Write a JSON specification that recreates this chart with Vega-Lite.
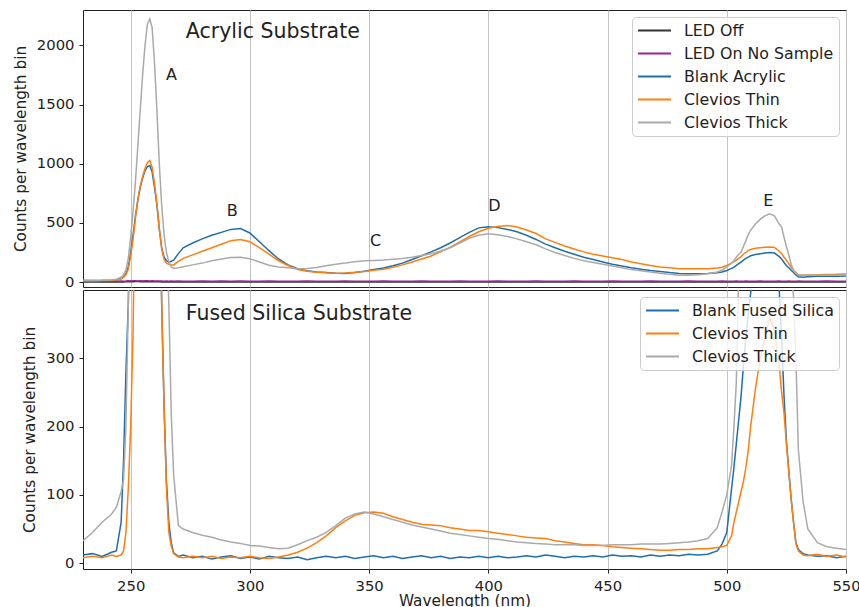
{
"$schema": "https://vega.github.io/schema/vega-lite/v6.json",
"padding": {"left": 12, "top": 9, "right": 1, "bottom": 0},
"background": "white",
"spacing": -3,
"config": {
 "font": "DejaVu Sans",
 "view": {"stroke": "#222222", "strokeWidth": 1},
 "axis": {"labelFont": "DejaVu Sans", "labelFontSize": 14.8, "labelColor": "#222222", "titleFont": "DejaVu Sans", "titleFontSize": 15.3, "titleFontWeight": "normal", "titleColor": "#222222", "tickColor": "#222222", "tickSize": 4, "labelPadding": 5, "domain": false, "grid": false, "gridColor": "#c4c4c4", "gridWidth": 1, "labelFlush": false, "format": "d"},
 "axisY": {"titlePadding": 8},
 "axisX": {"titlePadding": 1},
 "legend": {"orient": "top-right", "offset": 7, "symbolType": "M-1,0H3.4", "symbolStrokeWidth": 2, "symbolSize": 225, "labelFont": "DejaVu Sans", "labelFontSize": 15.8, "labelColor": "#222222", "fillColor": "rgba(255,255,255,0.8)", "strokeColor": "#cccccc", "cornerRadius": 4, "padding": 5, "rowPadding": 6, "labelOffset": 30},
 "text": {"font": "DejaVu Sans", "color": "#222222"}
},
"datasets": {
"acrylic": [
{"wl":230,"LED Off":1,"LED On No Sample":7,"Blank Acrylic":12,"Clevios Thin":12,"Clevios Thick":14},
{"wl":234,"LED Off":0,"LED On No Sample":8,"Blank Acrylic":12,"Clevios Thin":11,"Clevios Thick":14},
{"wl":238,"LED Off":2,"LED On No Sample":6,"Blank Acrylic":13,"Clevios Thin":12,"Clevios Thick":15},
{"wl":242,"LED Off":1,"LED On No Sample":8,"Blank Acrylic":16,"Clevios Thin":15,"Clevios Thick":18},
{"wl":244,"LED Off":0,"LED On No Sample":7,"Blank Acrylic":20,"Clevios Thin":19,"Clevios Thick":24},
{"wl":246,"LED Off":2,"LED On No Sample":9,"Blank Acrylic":30,"Clevios Thin":28,"Clevios Thick":40},
{"wl":247,"LED Off":1,"LED On No Sample":7,"Blank Acrylic":45,"Clevios Thin":40,"Clevios Thick":60},
{"wl":248,"LED Off":3,"LED On No Sample":8,"Blank Acrylic":70,"Clevios Thin":60,"Clevios Thick":100},
{"wl":249,"LED Off":2,"LED On No Sample":10,"Blank Acrylic":130,"Clevios Thin":110,"Clevios Thick":200},
{"wl":250,"LED Off":4,"LED On No Sample":9,"Blank Acrylic":250,"Clevios Thin":220,"Clevios Thick":380},
{"wl":251,"LED Off":3,"LED On No Sample":11,"Blank Acrylic":400,"Clevios Thin":360,"Clevios Thick":600},
{"wl":252,"LED Off":5,"LED On No Sample":10,"Blank Acrylic":560,"Clevios Thin":540,"Clevios Thick":850},
{"wl":253,"LED Off":4,"LED On No Sample":9,"Blank Acrylic":690,"Clevios Thin":700,"Clevios Thick":1150},
{"wl":254,"LED Off":3,"LED On No Sample":10,"Blank Acrylic":800,"Clevios Thin":810,"Clevios Thick":1450},
{"wl":255,"LED Off":4,"LED On No Sample":9,"Blank Acrylic":880,"Clevios Thin":890,"Clevios Thick":1750},
{"wl":256,"LED Off":3,"LED On No Sample":11,"Blank Acrylic":940,"Clevios Thin":960,"Clevios Thick":2000},
{"wl":257,"LED Off":4,"LED On No Sample":10,"Blank Acrylic":975,"Clevios Thin":1010,"Clevios Thick":2180},
{"wl":258,"LED Off":3,"LED On No Sample":9,"Blank Acrylic":985,"Clevios Thin":1028,"Clevios Thick":2224},
{"wl":259,"LED Off":2,"LED On No Sample":10,"Blank Acrylic":930,"Clevios Thin":970,"Clevios Thick":2150},
{"wl":260,"LED Off":3,"LED On No Sample":9,"Blank Acrylic":800,"Clevios Thin":830,"Clevios Thick":1850},
{"wl":261,"LED Off":2,"LED On No Sample":8,"Blank Acrylic":650,"Clevios Thin":660,"Clevios Thick":1450},
{"wl":262,"LED Off":2,"LED On No Sample":9,"Blank Acrylic":450,"Clevios Thin":450,"Clevios Thick":1000},
{"wl":263,"LED Off":1,"LED On No Sample":8,"Blank Acrylic":290,"Clevios Thin":280,"Clevios Thick":650},
{"wl":264,"LED Off":1,"LED On No Sample":7,"Blank Acrylic":210,"Clevios Thin":190,"Clevios Thick":400},
{"wl":265,"LED Off":1,"LED On No Sample":8,"Blank Acrylic":180,"Clevios Thin":160,"Clevios Thick":250},
{"wl":266,"LED Off":0,"LED On No Sample":7,"Blank Acrylic":170,"Clevios Thin":150,"Clevios Thick":170},
{"wl":267,"LED Off":1,"LED On No Sample":8,"Blank Acrylic":175,"Clevios Thin":145,"Clevios Thick":130},
{"wl":268,"LED Off":0,"LED On No Sample":7,"Blank Acrylic":185,"Clevios Thin":145,"Clevios Thick":115},
{"wl":270,"LED Off":1,"LED On No Sample":8,"Blank Acrylic":240,"Clevios Thin":175,"Clevios Thick":120},
{"wl":272,"LED Off":0,"LED On No Sample":7,"Blank Acrylic":290,"Clevios Thin":200,"Clevios Thick":130},
{"wl":276,"LED Off":1,"LED On No Sample":6,"Blank Acrylic":330,"Clevios Thin":230,"Clevios Thick":145},
{"wl":280,"LED Off":0,"LED On No Sample":8,"Blank Acrylic":365,"Clevios Thin":260,"Clevios Thick":160},
{"wl":284,"LED Off":1,"LED On No Sample":7,"Blank Acrylic":395,"Clevios Thin":290,"Clevios Thick":180},
{"wl":288,"LED Off":2,"LED On No Sample":8,"Blank Acrylic":420,"Clevios Thin":320,"Clevios Thick":195},
{"wl":292,"LED Off":0,"LED On No Sample":7,"Blank Acrylic":445,"Clevios Thin":350,"Clevios Thick":208},
{"wl":296,"LED Off":1,"LED On No Sample":8,"Blank Acrylic":452,"Clevios Thin":360,"Clevios Thick":210},
{"wl":300,"LED Off":0,"LED On No Sample":7,"Blank Acrylic":415,"Clevios Thin":340,"Clevios Thick":197},
{"wl":304,"LED Off":1,"LED On No Sample":6,"Blank Acrylic":340,"Clevios Thin":290,"Clevios Thick":170},
{"wl":308,"LED Off":0,"LED On No Sample":8,"Blank Acrylic":265,"Clevios Thin":235,"Clevios Thick":142},
{"wl":312,"LED Off":1,"LED On No Sample":7,"Blank Acrylic":195,"Clevios Thin":180,"Clevios Thick":128},
{"wl":316,"LED Off":0,"LED On No Sample":6,"Blank Acrylic":145,"Clevios Thin":140,"Clevios Thick":120},
{"wl":320,"LED Off":1,"LED On No Sample":7,"Blank Acrylic":112,"Clevios Thin":105,"Clevios Thick":113},
{"wl":324,"LED Off":0,"LED On No Sample":8,"Blank Acrylic":95,"Clevios Thin":92,"Clevios Thick":115},
{"wl":328,"LED Off":1,"LED On No Sample":7,"Blank Acrylic":85,"Clevios Thin":83,"Clevios Thick":122},
{"wl":332,"LED Off":0,"LED On No Sample":6,"Blank Acrylic":80,"Clevios Thin":78,"Clevios Thick":138},
{"wl":336,"LED Off":1,"LED On No Sample":7,"Blank Acrylic":74,"Clevios Thin":75,"Clevios Thick":150},
{"wl":340,"LED Off":0,"LED On No Sample":8,"Blank Acrylic":72,"Clevios Thin":76,"Clevios Thick":160},
{"wl":344,"LED Off":1,"LED On No Sample":7,"Blank Acrylic":80,"Clevios Thin":82,"Clevios Thick":172},
{"wl":348,"LED Off":0,"LED On No Sample":6,"Blank Acrylic":92,"Clevios Thin":90,"Clevios Thick":180},
{"wl":352,"LED Off":1,"LED On No Sample":7,"Blank Acrylic":105,"Clevios Thin":100,"Clevios Thick":183},
{"wl":356,"LED Off":0,"LED On No Sample":8,"Blank Acrylic":118,"Clevios Thin":108,"Clevios Thick":186},
{"wl":360,"LED Off":1,"LED On No Sample":7,"Blank Acrylic":138,"Clevios Thin":125,"Clevios Thick":192},
{"wl":364,"LED Off":0,"LED On No Sample":6,"Blank Acrylic":160,"Clevios Thin":145,"Clevios Thick":198},
{"wl":368,"LED Off":1,"LED On No Sample":7,"Blank Acrylic":190,"Clevios Thin":170,"Clevios Thick":210},
{"wl":372,"LED Off":0,"LED On No Sample":8,"Blank Acrylic":222,"Clevios Thin":195,"Clevios Thick":225},
{"wl":376,"LED Off":1,"LED On No Sample":7,"Blank Acrylic":255,"Clevios Thin":220,"Clevios Thick":240},
{"wl":380,"LED Off":0,"LED On No Sample":6,"Blank Acrylic":290,"Clevios Thin":255,"Clevios Thick":262},
{"wl":384,"LED Off":1,"LED On No Sample":7,"Blank Acrylic":330,"Clevios Thin":295,"Clevios Thick":290},
{"wl":388,"LED Off":0,"LED On No Sample":8,"Blank Acrylic":375,"Clevios Thin":340,"Clevios Thick":330},
{"wl":392,"LED Off":1,"LED On No Sample":7,"Blank Acrylic":420,"Clevios Thin":385,"Clevios Thick":370},
{"wl":396,"LED Off":0,"LED On No Sample":6,"Blank Acrylic":458,"Clevios Thin":425,"Clevios Thick":395},
{"wl":400,"LED Off":1,"LED On No Sample":7,"Blank Acrylic":468,"Clevios Thin":455,"Clevios Thick":409},
{"wl":404,"LED Off":0,"LED On No Sample":8,"Blank Acrylic":460,"Clevios Thin":470,"Clevios Thick":400},
{"wl":408,"LED Off":1,"LED On No Sample":7,"Blank Acrylic":445,"Clevios Thin":478,"Clevios Thick":385},
{"wl":412,"LED Off":0,"LED On No Sample":6,"Blank Acrylic":425,"Clevios Thin":465,"Clevios Thick":365},
{"wl":416,"LED Off":1,"LED On No Sample":7,"Blank Acrylic":395,"Clevios Thin":440,"Clevios Thick":340},
{"wl":420,"LED Off":0,"LED On No Sample":8,"Blank Acrylic":360,"Clevios Thin":410,"Clevios Thick":315},
{"wl":424,"LED Off":1,"LED On No Sample":7,"Blank Acrylic":320,"Clevios Thin":365,"Clevios Thick":280},
{"wl":428,"LED Off":0,"LED On No Sample":6,"Blank Acrylic":290,"Clevios Thin":335,"Clevios Thick":250},
{"wl":432,"LED Off":1,"LED On No Sample":7,"Blank Acrylic":260,"Clevios Thin":305,"Clevios Thick":225},
{"wl":436,"LED Off":0,"LED On No Sample":8,"Blank Acrylic":235,"Clevios Thin":280,"Clevios Thick":200},
{"wl":440,"LED Off":1,"LED On No Sample":7,"Blank Acrylic":210,"Clevios Thin":255,"Clevios Thick":180},
{"wl":444,"LED Off":0,"LED On No Sample":6,"Blank Acrylic":190,"Clevios Thin":235,"Clevios Thick":165},
{"wl":448,"LED Off":1,"LED On No Sample":7,"Blank Acrylic":170,"Clevios Thin":220,"Clevios Thick":150},
{"wl":452,"LED Off":0,"LED On No Sample":8,"Blank Acrylic":150,"Clevios Thin":205,"Clevios Thick":135},
{"wl":456,"LED Off":1,"LED On No Sample":7,"Blank Acrylic":135,"Clevios Thin":190,"Clevios Thick":120},
{"wl":460,"LED Off":0,"LED On No Sample":6,"Blank Acrylic":120,"Clevios Thin":170,"Clevios Thick":105},
{"wl":464,"LED Off":1,"LED On No Sample":7,"Blank Acrylic":108,"Clevios Thin":155,"Clevios Thick":95},
{"wl":468,"LED Off":0,"LED On No Sample":8,"Blank Acrylic":98,"Clevios Thin":140,"Clevios Thick":85},
{"wl":472,"LED Off":1,"LED On No Sample":7,"Blank Acrylic":90,"Clevios Thin":128,"Clevios Thick":75},
{"wl":476,"LED Off":0,"LED On No Sample":6,"Blank Acrylic":80,"Clevios Thin":120,"Clevios Thick":65},
{"wl":480,"LED Off":1,"LED On No Sample":7,"Blank Acrylic":72,"Clevios Thin":113,"Clevios Thick":58},
{"wl":484,"LED Off":0,"LED On No Sample":8,"Blank Acrylic":70,"Clevios Thin":112,"Clevios Thick":58},
{"wl":488,"LED Off":1,"LED On No Sample":7,"Blank Acrylic":70,"Clevios Thin":112,"Clevios Thick":62},
{"wl":492,"LED Off":0,"LED On No Sample":6,"Blank Acrylic":72,"Clevios Thin":113,"Clevios Thick":70},
{"wl":496,"LED Off":1,"LED On No Sample":7,"Blank Acrylic":78,"Clevios Thin":118,"Clevios Thick":85},
{"wl":498,"LED Off":0,"LED On No Sample":8,"Blank Acrylic":85,"Clevios Thin":125,"Clevios Thick":100},
{"wl":500,"LED Off":1,"LED On No Sample":7,"Blank Acrylic":98,"Clevios Thin":140,"Clevios Thick":127},
{"wl":502,"LED Off":0,"LED On No Sample":6,"Blank Acrylic":115,"Clevios Thin":160,"Clevios Thick":160},
{"wl":503,"LED Off":1,"LED On No Sample":7,"Blank Acrylic":125,"Clevios Thin":172,"Clevios Thick":183},
{"wl":504,"LED Off":0,"LED On No Sample":8,"Blank Acrylic":140,"Clevios Thin":185,"Clevios Thick":210},
{"wl":505,"LED Off":1,"LED On No Sample":7,"Blank Acrylic":155,"Clevios Thin":200,"Clevios Thick":235},
{"wl":506,"LED Off":0,"LED On No Sample":6,"Blank Acrylic":169,"Clevios Thin":215,"Clevios Thick":253},
{"wl":507,"LED Off":1,"LED On No Sample":7,"Blank Acrylic":185,"Clevios Thin":235,"Clevios Thick":300},
{"wl":508,"LED Off":0,"LED On No Sample":8,"Blank Acrylic":200,"Clevios Thin":250,"Clevios Thick":350},
{"wl":509,"LED Off":1,"LED On No Sample":7,"Blank Acrylic":211,"Clevios Thin":268,"Clevios Thick":400},
{"wl":510,"LED Off":0,"LED On No Sample":6,"Blank Acrylic":222,"Clevios Thin":275,"Clevios Thick":437},
{"wl":512,"LED Off":1,"LED On No Sample":7,"Blank Acrylic":232,"Clevios Thin":285,"Clevios Thick":490},
{"wl":514,"LED Off":0,"LED On No Sample":8,"Blank Acrylic":240,"Clevios Thin":290,"Clevios Thick":530},
{"wl":516,"LED Off":1,"LED On No Sample":7,"Blank Acrylic":245,"Clevios Thin":295,"Clevios Thick":560},
{"wl":518,"LED Off":0,"LED On No Sample":6,"Blank Acrylic":250,"Clevios Thin":296,"Clevios Thick":577},
{"wl":520,"LED Off":1,"LED On No Sample":7,"Blank Acrylic":245,"Clevios Thin":292,"Clevios Thick":560},
{"wl":522,"LED Off":0,"LED On No Sample":8,"Blank Acrylic":215,"Clevios Thin":260,"Clevios Thick":490},
{"wl":523,"LED Off":1,"LED On No Sample":7,"Blank Acrylic":195,"Clevios Thin":240,"Clevios Thick":465},
{"wl":524,"LED Off":0,"LED On No Sample":6,"Blank Acrylic":165,"Clevios Thin":210,"Clevios Thick":380},
{"wl":525,"LED Off":1,"LED On No Sample":7,"Blank Acrylic":140,"Clevios Thin":185,"Clevios Thick":300},
{"wl":526,"LED Off":0,"LED On No Sample":8,"Blank Acrylic":120,"Clevios Thin":155,"Clevios Thick":230},
{"wl":527,"LED Off":1,"LED On No Sample":7,"Blank Acrylic":99,"Clevios Thin":125,"Clevios Thick":150},
{"wl":528,"LED Off":0,"LED On No Sample":6,"Blank Acrylic":80,"Clevios Thin":100,"Clevios Thick":100},
{"wl":529,"LED Off":1,"LED On No Sample":7,"Blank Acrylic":60,"Clevios Thin":80,"Clevios Thick":75},
{"wl":530,"LED Off":0,"LED On No Sample":8,"Blank Acrylic":45,"Clevios Thin":62,"Clevios Thick":60},
{"wl":532,"LED Off":1,"LED On No Sample":7,"Blank Acrylic":40,"Clevios Thin":58,"Clevios Thick":57},
{"wl":534,"LED Off":0,"LED On No Sample":6,"Blank Acrylic":45,"Clevios Thin":60,"Clevios Thick":57},
{"wl":538,"LED Off":1,"LED On No Sample":7,"Blank Acrylic":48,"Clevios Thin":62,"Clevios Thick":57},
{"wl":542,"LED Off":0,"LED On No Sample":8,"Blank Acrylic":48,"Clevios Thin":64,"Clevios Thick":57},
{"wl":546,"LED Off":1,"LED On No Sample":7,"Blank Acrylic":48,"Clevios Thin":65,"Clevios Thick":57},
{"wl":550,"LED Off":0,"LED On No Sample":6,"Blank Acrylic":50,"Clevios Thin":68,"Clevios Thick":60}
],
"silica": [
{"wl":230,"Blank Fused Silica":12,"Clevios Thin":8,"Clevios Thick":33},
{"wl":234,"Blank Fused Silica":14,"Clevios Thin":10,"Clevios Thick":45},
{"wl":238,"Blank Fused Silica":10,"Clevios Thin":8,"Clevios Thick":60},
{"wl":242,"Blank Fused Silica":16,"Clevios Thin":12,"Clevios Thick":72},
{"wl":244,"Blank Fused Silica":18,"Clevios Thin":10,"Clevios Thick":82},
{"wl":246,"Blank Fused Silica":60,"Clevios Thin":12,"Clevios Thick":105},
{"wl":247,"Blank Fused Silica":150,"Clevios Thin":18,"Clevios Thick":122},
{"wl":248,"Blank Fused Silica":280,"Clevios Thin":45,"Clevios Thick":200},
{"wl":249,"Blank Fused Silica":380,"Clevios Thin":110,"Clevios Thick":380},
{"wl":250,"Blank Fused Silica":520,"Clevios Thin":200,"Clevios Thick":600},
{"wl":251,"Blank Fused Silica":800,"Clevios Thin":340,"Clevios Thick":900},
{"wl":252,"Blank Fused Silica":1100,"Clevios Thin":600,"Clevios Thick":1200},
{"wl":253,"Blank Fused Silica":1300,"Clevios Thin":900,"Clevios Thick":1500},
{"wl":254,"Blank Fused Silica":1400,"Clevios Thin":1200,"Clevios Thick":1800},
{"wl":255,"Blank Fused Silica":1450,"Clevios Thin":1350,"Clevios Thick":2000},
{"wl":256,"Blank Fused Silica":1500,"Clevios Thin":1450,"Clevios Thick":2100},
{"wl":257,"Blank Fused Silica":1500,"Clevios Thin":1500,"Clevios Thick":2200},
{"wl":258,"Blank Fused Silica":1500,"Clevios Thin":1500,"Clevios Thick":2200},
{"wl":259,"Blank Fused Silica":1400,"Clevios Thin":1400,"Clevios Thick":2100},
{"wl":260,"Blank Fused Silica":1200,"Clevios Thin":1200,"Clevios Thick":1900},
{"wl":261,"Blank Fused Silica":900,"Clevios Thin":900,"Clevios Thick":1600},
{"wl":262,"Blank Fused Silica":600,"Clevios Thin":600,"Clevios Thick":1200},
{"wl":263,"Blank Fused Silica":380,"Clevios Thin":380,"Clevios Thick":900},
{"wl":264,"Blank Fused Silica":230,"Clevios Thin":230,"Clevios Thick":650},
{"wl":265,"Blank Fused Silica":120,"Clevios Thin":110,"Clevios Thick":480},
{"wl":266,"Blank Fused Silica":60,"Clevios Thin":45,"Clevios Thick":380},
{"wl":267,"Blank Fused Silica":30,"Clevios Thin":25,"Clevios Thick":220},
{"wl":268,"Blank Fused Silica":15,"Clevios Thin":14,"Clevios Thick":130},
{"wl":270,"Blank Fused Silica":10,"Clevios Thin":9,"Clevios Thick":55},
{"wl":272,"Blank Fused Silica":12,"Clevios Thin":8,"Clevios Thick":50},
{"wl":276,"Blank Fused Silica":8,"Clevios Thin":10,"Clevios Thick":45},
{"wl":280,"Blank Fused Silica":10,"Clevios Thin":8,"Clevios Thick":41},
{"wl":284,"Blank Fused Silica":6,"Clevios Thin":10,"Clevios Thick":38},
{"wl":288,"Blank Fused Silica":9,"Clevios Thin":7,"Clevios Thick":34},
{"wl":292,"Blank Fused Silica":11,"Clevios Thin":9,"Clevios Thick":31},
{"wl":296,"Blank Fused Silica":7,"Clevios Thin":8,"Clevios Thick":29},
{"wl":300,"Blank Fused Silica":9,"Clevios Thin":10,"Clevios Thick":26},
{"wl":304,"Blank Fused Silica":6,"Clevios Thin":8,"Clevios Thick":25},
{"wl":308,"Blank Fused Silica":10,"Clevios Thin":7,"Clevios Thick":23},
{"wl":312,"Blank Fused Silica":8,"Clevios Thin":9,"Clevios Thick":21},
{"wl":316,"Blank Fused Silica":7,"Clevios Thin":12,"Clevios Thick":22},
{"wl":320,"Blank Fused Silica":9,"Clevios Thin":16,"Clevios Thick":27},
{"wl":324,"Blank Fused Silica":5,"Clevios Thin":22,"Clevios Thick":33},
{"wl":328,"Blank Fused Silica":8,"Clevios Thin":30,"Clevios Thick":38},
{"wl":332,"Blank Fused Silica":10,"Clevios Thin":40,"Clevios Thick":45},
{"wl":336,"Blank Fused Silica":8,"Clevios Thin":52,"Clevios Thick":55},
{"wl":340,"Blank Fused Silica":10,"Clevios Thin":62,"Clevios Thick":66},
{"wl":344,"Blank Fused Silica":7,"Clevios Thin":70,"Clevios Thick":72},
{"wl":348,"Blank Fused Silica":9,"Clevios Thin":74,"Clevios Thick":75},
{"wl":352,"Blank Fused Silica":11,"Clevios Thin":75,"Clevios Thick":72},
{"wl":356,"Blank Fused Silica":8,"Clevios Thin":73,"Clevios Thick":68},
{"wl":360,"Blank Fused Silica":10,"Clevios Thin":68,"Clevios Thick":64},
{"wl":364,"Blank Fused Silica":7,"Clevios Thin":64,"Clevios Thick":60},
{"wl":368,"Blank Fused Silica":9,"Clevios Thin":60,"Clevios Thick":56},
{"wl":372,"Blank Fused Silica":11,"Clevios Thin":57,"Clevios Thick":53},
{"wl":376,"Blank Fused Silica":8,"Clevios Thin":56,"Clevios Thick":50},
{"wl":380,"Blank Fused Silica":10,"Clevios Thin":55,"Clevios Thick":47},
{"wl":384,"Blank Fused Silica":7,"Clevios Thin":52,"Clevios Thick":44},
{"wl":388,"Blank Fused Silica":9,"Clevios Thin":50,"Clevios Thick":42},
{"wl":392,"Blank Fused Silica":8,"Clevios Thin":48,"Clevios Thick":40},
{"wl":396,"Blank Fused Silica":10,"Clevios Thin":48,"Clevios Thick":38},
{"wl":400,"Blank Fused Silica":8,"Clevios Thin":46,"Clevios Thick":36},
{"wl":404,"Blank Fused Silica":10,"Clevios Thin":44,"Clevios Thick":35},
{"wl":408,"Blank Fused Silica":8,"Clevios Thin":42,"Clevios Thick":33},
{"wl":412,"Blank Fused Silica":9,"Clevios Thin":40,"Clevios Thick":31},
{"wl":416,"Blank Fused Silica":11,"Clevios Thin":38,"Clevios Thick":30},
{"wl":420,"Blank Fused Silica":9,"Clevios Thin":37,"Clevios Thick":29},
{"wl":424,"Blank Fused Silica":12,"Clevios Thin":36,"Clevios Thick":28},
{"wl":428,"Blank Fused Silica":10,"Clevios Thin":33,"Clevios Thick":27},
{"wl":432,"Blank Fused Silica":8,"Clevios Thin":31,"Clevios Thick":27},
{"wl":436,"Blank Fused Silica":10,"Clevios Thin":29,"Clevios Thick":27},
{"wl":440,"Blank Fused Silica":9,"Clevios Thin":27,"Clevios Thick":26},
{"wl":444,"Blank Fused Silica":11,"Clevios Thin":27,"Clevios Thick":26},
{"wl":448,"Blank Fused Silica":9,"Clevios Thin":26,"Clevios Thick":26},
{"wl":452,"Blank Fused Silica":12,"Clevios Thin":24,"Clevios Thick":27},
{"wl":456,"Blank Fused Silica":10,"Clevios Thin":23,"Clevios Thick":27},
{"wl":460,"Blank Fused Silica":11,"Clevios Thin":22,"Clevios Thick":27},
{"wl":464,"Blank Fused Silica":9,"Clevios Thin":21,"Clevios Thick":28},
{"wl":468,"Blank Fused Silica":12,"Clevios Thin":20,"Clevios Thick":28},
{"wl":472,"Blank Fused Silica":10,"Clevios Thin":19,"Clevios Thick":28},
{"wl":476,"Blank Fused Silica":12,"Clevios Thin":19,"Clevios Thick":29},
{"wl":480,"Blank Fused Silica":11,"Clevios Thin":20,"Clevios Thick":30},
{"wl":484,"Blank Fused Silica":13,"Clevios Thin":20,"Clevios Thick":31},
{"wl":488,"Blank Fused Silica":12,"Clevios Thin":21,"Clevios Thick":33},
{"wl":492,"Blank Fused Silica":13,"Clevios Thin":21,"Clevios Thick":36},
{"wl":496,"Blank Fused Silica":18,"Clevios Thin":23,"Clevios Thick":52},
{"wl":498,"Blank Fused Silica":28,"Clevios Thin":24,"Clevios Thick":75},
{"wl":500,"Blank Fused Silica":45,"Clevios Thin":26,"Clevios Thick":100},
{"wl":502,"Blank Fused Silica":109,"Clevios Thin":40,"Clevios Thick":143},
{"wl":503,"Blank Fused Silica":140,"Clevios Thin":60,"Clevios Thick":200},
{"wl":504,"Blank Fused Silica":175,"Clevios Thin":75,"Clevios Thick":265},
{"wl":505,"Blank Fused Silica":210,"Clevios Thin":90,"Clevios Thick":420},
{"wl":506,"Blank Fused Silica":245,"Clevios Thin":105,"Clevios Thick":600},
{"wl":507,"Blank Fused Silica":290,"Clevios Thin":120,"Clevios Thick":800},
{"wl":508,"Blank Fused Silica":330,"Clevios Thin":140,"Clevios Thick":950},
{"wl":509,"Blank Fused Silica":365,"Clevios Thin":165,"Clevios Thick":1050},
{"wl":510,"Blank Fused Silica":395,"Clevios Thin":200,"Clevios Thick":1100},
{"wl":512,"Blank Fused Silica":470,"Clevios Thin":255,"Clevios Thick":1200},
{"wl":514,"Blank Fused Silica":520,"Clevios Thin":300,"Clevios Thick":1250},
{"wl":516,"Blank Fused Silica":540,"Clevios Thin":330,"Clevios Thick":1250},
{"wl":518,"Blank Fused Silica":540,"Clevios Thin":360,"Clevios Thick":1200},
{"wl":520,"Blank Fused Silica":520,"Clevios Thin":340,"Clevios Thick":1150},
{"wl":522,"Blank Fused Silica":400,"Clevios Thin":289,"Clevios Thick":1000},
{"wl":523,"Blank Fused Silica":330,"Clevios Thin":250,"Clevios Thick":850},
{"wl":524,"Blank Fused Silica":245,"Clevios Thin":220,"Clevios Thick":700},
{"wl":525,"Blank Fused Silica":180,"Clevios Thin":175,"Clevios Thick":560},
{"wl":526,"Blank Fused Silica":135,"Clevios Thin":135,"Clevios Thick":480},
{"wl":527,"Blank Fused Silica":94,"Clevios Thin":94,"Clevios Thick":430},
{"wl":528,"Blank Fused Silica":60,"Clevios Thin":60,"Clevios Thick":390},
{"wl":529,"Blank Fused Silica":30,"Clevios Thin":28,"Clevios Thick":300},
{"wl":530,"Blank Fused Silica":20,"Clevios Thin":18,"Clevios Thick":167},
{"wl":532,"Blank Fused Silica":14,"Clevios Thin":12,"Clevios Thick":90},
{"wl":534,"Blank Fused Silica":12,"Clevios Thin":11,"Clevios Thick":50},
{"wl":538,"Blank Fused Silica":10,"Clevios Thin":13,"Clevios Thick":30},
{"wl":542,"Blank Fused Silica":11,"Clevios Thin":10,"Clevios Thick":24},
{"wl":546,"Blank Fused Silica":8,"Clevios Thin":12,"Clevios Thick":22},
{"wl":550,"Blank Fused Silica":10,"Clevios Thin":9,"Clevios Thick":20}
]
},
"vconcat": [
{
 "width": 763, "height": 277,
 "layer": [
  {
   "data": {"name": "acrylic"},
   "transform": [{"fold": ["LED Off", "LED On No Sample", "Blank Acrylic", "Clevios Thin", "Clevios Thick"], "as": ["series", "counts"]}],
   "mark": {"type": "line", "strokeWidth": 1.5, "clip": true},
   "encoding": {
    "x": {"field": "wl", "type": "quantitative", "scale": {"domain": [230, 550], "nice": false, "zero": false}, "axis": {"title": null, "labels": false, "ticks": false, "domain": false, "grid": true, "minExtent": 0, "maxExtent": 0, "offset": 0, "values": [250, 300, 350, 400, 450, 500, 550]}},
    "y": {"field": "counts", "type": "quantitative", "scale": {"domain": [-42, 2300], "nice": false, "zero": false}, "axis": {"title": "Counts per wavelength bin", "values": [0, 500, 1000, 1500, 2000]}},
    "color": {"field": "series", "type": "nominal", "scale": {"domain": ["LED Off", "LED On No Sample", "Blank Acrylic", "Clevios Thin", "Clevios Thick"], "range": ["#333333", "#99249a", "#1f6fab", "#ff7f0e", "#aaaaaa"]}, "legend": {"title": null}}
   }
  },
  {
   "data": {"values": [{"wl": 267.1, "v": 1753, "t": "A"}, {"wl": 292.6, "v": 599, "t": "B"}, {"wl": 352.7, "v": 345, "t": "C"}, {"wl": 402.5, "v": 641, "t": "D"}, {"wl": 517.4, "v": 687, "t": "E"}]},
   "mark": {"type": "text", "fontSize": 16, "baseline": "middle", "align": "center"},
   "encoding": {"x": {"field": "wl", "type": "quantitative"}, "y": {"field": "v", "type": "quantitative"}, "text": {"field": "t"}}
  },
  {
   "data": {"values": [{"wl": 273.1, "v": 2117, "t": "Acrylic Substrate"}]},
   "mark": {"type": "text", "fontSize": 20.5, "baseline": "middle", "align": "left"},
   "encoding": {"x": {"field": "wl", "type": "quantitative"}, "y": {"field": "v", "type": "quantitative"}, "text": {"field": "t"}}
  }
 ]
},
{
 "width": 763, "height": 279,
 "layer": [
  {
   "data": {"name": "silica"},
   "transform": [{"fold": ["Blank Fused Silica", "Clevios Thin", "Clevios Thick"], "as": ["series", "counts"]}],
   "mark": {"type": "line", "strokeWidth": 1.5, "clip": true},
   "encoding": {
    "x": {"field": "wl", "type": "quantitative", "scale": {"domain": [230, 550], "nice": false, "zero": false}, "axis": {"title": "Wavelength (nm)", "grid": true, "values": [250, 300, 350, 400, 450, 500, 550]}},
    "y": {"field": "counts", "type": "quantitative", "scale": {"domain": [-8.5, 400], "nice": false, "zero": false}, "axis": {"title": "Counts per wavelength bin", "values": [0, 100, 200, 300]}},
    "color": {"field": "series", "type": "nominal", "scale": {"domain": ["Blank Fused Silica", "Clevios Thin", "Clevios Thick"], "range": ["#1f6fab", "#ff7f0e", "#aaaaaa"]}, "legend": {"title": null}}
   }
  },
  {
   "data": {"values": [{"wl": 273.1, "v": 365, "t": "Fused Silica Substrate"}]},
   "mark": {"type": "text", "fontSize": 20.5, "baseline": "middle", "align": "left"},
   "encoding": {"x": {"field": "wl", "type": "quantitative"}, "y": {"field": "v", "type": "quantitative"}, "text": {"field": "t"}}
  }
 ]
}
],
"resolve": {"scale": {"color": "independent"}, "legend": {"color": "independent"}}
}
